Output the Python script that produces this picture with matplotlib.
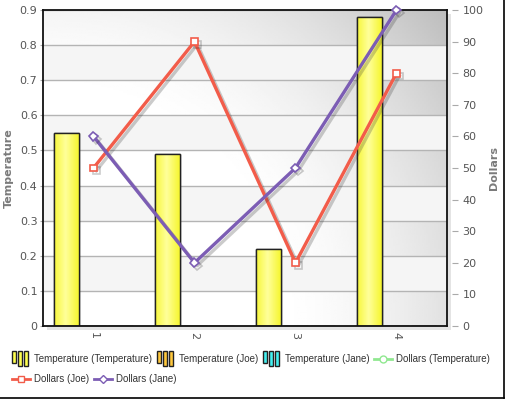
import numpy as np
import matplotlib as mpl
import matplotlib.pyplot as plt
import matplotlib.patheffects as pe
from matplotlib.legend_handler import HandlerBase
from matplotlib.lines import Line2D
from matplotlib.patches import Rectangle

categories = ["1", "2", "3", "4"]
temp_temperature = [0.55, 0.49, 0.22, 0.88]
temp_joe = [0, 0, 0, 0]
temp_jane = [0, 0, 0, 0]
dollars_joe = [50, 90, 20, 80]
dollars_jane = [60, 20, 50, 100]
left_ticks = [0, 0.1, 0.2, 0.3, 0.4, 0.5, 0.6, 0.7, 0.8, 0.9]
right_ticks = [0, 10, 20, 30, 40, 50, 60, 70, 80, 90, 100]

c_yellow = "#f6f632"
c_orange = "#ffc83c"
c_cyan = "#44f0f0"
c_green = "#90e890"
c_joe = "#f25c4a"
c_jane = "#7c5db4"
tick_col = "#555555"


class BarHandler(HandlerBase):
    def __init__(self, color):
        super().__init__()
        self.color = color

    def create_artists(self, legend, orig, xd, yd, w, h, fs, trans):
        arts = []
        bw = w / 4.6
        for i, fr in enumerate([0.8, 1.0, 1.0]):
            top = yd + 1.6 * h
            ht = 2.2 * h * fr
            r = Rectangle((xd + i * bw * 1.5, top - ht), bw, ht,
                          facecolor=self.color, edgecolor="#222222", lw=1.0,
                          transform=trans)
            arts.append(r)
        return arts


plt.rcParams["font.family"] = ["DejaVu Sans"]
fig = plt.figure(figsize=(5.06, 3.99), dpi=100)
ax = fig.add_axes([43 / 506, 73 / 399, 404 / 506, 316 / 399])

# background gradient + bands
gx, gy = np.meshgrid(np.linspace(0, 1, 200), np.linspace(0, 1, 200))
r = np.sqrt(gx ** 2 + (gy * 0.8) ** 2) / np.sqrt(1 + 0.64)
t = np.clip((r - 0.45) / 0.55, 0, 1) ** 1.6
grad = 1.0 - 0.26 * t
ax.imshow(grad, extent=[0, 1, 0, 1], transform=ax.transAxes, origin="lower",
          cmap="gray", vmin=0, vmax=1, aspect="auto", zorder=0)
for lo in [0.1, 0.3, 0.5, 0.7]:
    ax.axhspan(lo, lo + 0.1, color="#f5f5f5", zorder=0.5, lw=0)
ax.set_axisbelow(True)
ax.yaxis.grid(True, color="#b4b4b4", lw=1)

x = np.arange(len(categories))
bw = 0.25
off = 0.267
series = [(temp_temperature, c_yellow, -off), (temp_joe, c_orange, 0),
          (temp_jane, c_cyan, off)]
for vals, col, o in series:
    bars = ax.bar(x + o, vals, bw, color=col, edgecolor="#222222", lw=1, zorder=2)
    for b in bars:
        if b.get_height() <= 0:
            continue
        x0, y0 = b.get_x(), b.get_y()
        hg = np.linspace(0, 1, 50)
        shade = 1 - np.abs(hg - 0.45) * 2.0
        img = np.tile(np.clip(shade, 0, 1), (2, 1))
        cm = mpl.colors.LinearSegmentedColormap.from_list("", [col, "#ffff9a"])
        im = ax.imshow(img, extent=[x0, x0 + b.get_width(), y0, y0 + b.get_height()],
                       cmap=cm, vmin=0, vmax=1, aspect="auto", zorder=2.1)
        im.set_clip_path(b)
        edge = Rectangle((x0, y0), b.get_width(), b.get_height(), fill=False,
                         edgecolor="#222222", lw=1, zorder=2.2)
        ax.add_patch(edge)

ax.set_xlim(-0.5, 3.5)
ax.set_ylim(0, 0.9)
ax.set_xticks(x)
ax.set_xticklabels(categories, rotation=270)
ax.set_yticks(left_ticks)
ax.set_yticklabels(["0", "0.1", "0.2", "0.3", "0.4", "0.5", "0.6", "0.7", "0.8", "0.9"])
ax.tick_params(axis="y", length=2.5, color="#aaaaaa", pad=1.5,
               labelsize=8, labelcolor=tick_col)
ax.tick_params(axis="x", length=0, pad=4, labelsize=8, labelcolor=tick_col)
for s in ax.spines.values():
    s.set_color("#111111")
    s.set_linewidth(1.3)
ax.set_ylabel("Temperature", fontsize=8, fontweight="bold", color="#7a7a7a",
              labelpad=4)
ax.patch.set_path_effects([pe.withSimplePatchShadow(offset=(3, -3), alpha=0.15)])

ax2 = ax.twinx()
ax2.set_ylim(0, 100)
ax2.set_yticks(right_ticks)
ax2.set_yticklabels([str(v) for v in right_ticks])
ax2.spines["right"].set_position(("outward", 3.6))
for s in ax2.spines.values():
    s.set_visible(False)
ax2.tick_params(axis="y", length=4.5, color="#aaaaaa", pad=3,
                labelsize=8, labelcolor=tick_col)
ax2.set_ylabel("Dollars", fontsize=8, fontweight="bold", color="#7a7a7a",
               labelpad=4)

shadow = [pe.SimpleLineShadow(offset=(2, -2), alpha=0.25, shadow_color="#333333"),
          pe.Normal()]
ax2.plot(x, dollars_joe, color=c_joe, lw=2.4, marker="s", ms=5,
         mfc="white", mec=c_joe, mew=1.2, path_effects=shadow, zorder=3, clip_on=False)
ax2.plot(x, dollars_jane, color=c_jane, lw=2.4, marker="D", ms=4.5,
         mfc="white", mec=c_jane, mew=1.2, path_effects=shadow, zorder=3, clip_on=False)

# legend
h_tt = Rectangle((0, 0), 1, 1)
h_tj = Rectangle((0, 0), 1, 1)
h_tja = Rectangle((0, 0), 1, 1)
h_dt = Line2D([], [], color=c_green, lw=2, marker="o", ms=5, mfc="white", mec=c_green)
h_dj = Line2D([], [], color=c_joe, lw=2, marker="s", ms=4.5, mfc="white", mec=c_joe)
h_dja = Line2D([], [], color=c_jane, lw=2, marker="D", ms=4, mfc="white", mec=c_jane)
hmap = {h_tt: BarHandler("#ffff50"), h_tj: BarHandler(c_orange), h_tja: BarHandler(c_cyan)}
common = dict(frameon=False, handlelength=1.9, handletextpad=0.4,
              columnspacing=0.45, borderaxespad=0, labelcolor="#333333",
              prop={"family": "Liberation Sans", "size": 7.0})
leg1 = fig.legend([h_tt, h_tj, h_tja, h_dt],
                  ["Temperature (Temperature)", "Temperature (Joe)",
                   "Temperature (Jane)", "Dollars (Temperature)"],
                  loc="center left", bbox_to_anchor=(8 / 506, 1 - 359 / 399), ncol=4,
                  handler_map=hmap, **common)
leg2 = fig.legend([h_dj, h_dja], ["Dollars (Joe)", "Dollars (Jane)"],
                  loc="center left", bbox_to_anchor=(8 / 506, 1 - 379 / 399), ncol=2,
                  **common)

# figure border on right and bottom
fig.add_artist(Line2D([504.5 / 506, 504.5 / 506], [1.5 / 399, 1], color="black", lw=1.2))
fig.add_artist(Line2D([0, 504.5 / 506], [1.5 / 399, 1.5 / 399], color="black", lw=1.2))

fig.savefig("out.png", dpi=100)
